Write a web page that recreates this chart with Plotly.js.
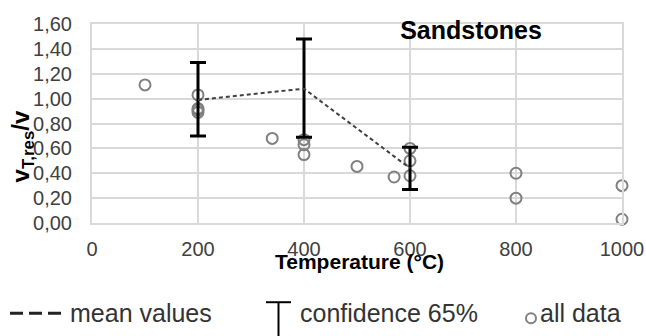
<!DOCTYPE html>
<html>
<head>
<meta charset="utf-8">
<script src="https://cdn.plot.ly/plotly-3.0.1.min.js"></script>
<style>
  html, body { margin: 0; padding: 0; background: #fff; }
  #chart { width: 646px; height: 336px; }
</style>
</head>
<body>
<div id="chart"></div>
<script>
// Residual velocity ratio of sandstones after heating
const allTemp = [100, 200, 200, 200, 200, 340, 400, 400, 400, 500, 570, 600, 600, 600, 800, 800, 1000, 1000];
const allRatio = [1.11, 1.03, 0.92, 0.91, 0.89, 0.68, 0.67, 0.63, 0.55, 0.455, 0.37, 0.60, 0.50, 0.38, 0.40, 0.20, 0.30, 0.03];

const meanTemp = [200, 400, 600];
const meanRatio = [0.99, 1.08, 0.44];
const confPlus = [0.30, 0.40, 0.17];
const confMinus = [0.29, 0.39, 0.17];

const xTicks = [0, 200, 400, 600, 800, 1000];
const yTicks = [0, 0.2, 0.4, 0.6, 0.8, 1.0, 1.2, 1.4, 1.6];

const FONT = 'Liberation Sans, Arial, sans-serif';
const TXT = '#404040';
const GRID = '#d9d9d9';

// Plot area in pixels, used to place the hand-built key below the axes
const W = 646, H = 336;
const M = { l: 92, r: 24, t: 23.5, b: 113.3 };
const pw = W - M.l - M.r, ph = H - M.t - M.b;
const px = v => (v - M.l) / pw;
const py = v => 1 - (v - M.t) / ph;

const traces = [
  {
    x: allTemp, y: allRatio, type: 'scatter', mode: 'markers',
    marker: { symbol: 'circle-open', size: 11, color: '#808080', line: { width: 2, color: '#808080' } },
    cliponaxis: false, showlegend: false, hoverinfo: 'x+y'
  },
  {
    x: meanTemp, y: meanRatio, type: 'scatter', mode: 'lines',
    line: { color: '#404040', width: 2, dash: '4px,3px' },
    error_y: { type: 'data', symmetric: false, array: confPlus, arrayminus: confMinus,
               color: '#000', thickness: 3, width: 8 },
    cliponaxis: false, showlegend: false
  }
];

const shapes = [
  // key: dashed line
  { type: 'line', xref: 'paper', yref: 'paper', x0: px(10), x1: px(61), y0: py(313), y1: py(313),
    line: { color: '#222', width: 3, dash: '13px,6px' } },
  // key: confidence T
  { type: 'line', xref: 'paper', yref: 'paper', x0: px(266), x1: px(291), y0: py(302), y1: py(302),
    line: { color: '#000', width: 2 } },
  { type: 'line', xref: 'paper', yref: 'paper', x0: px(278.5), x1: px(278.5), y0: py(302), y1: py(337),
    line: { color: '#000', width: 2 } },
  // key: open circle
  { type: 'circle', xref: 'paper', yref: 'paper', x0: px(526), x1: px(536), y0: py(313), y1: py(323),
    line: { color: '#808080', width: 2 }, fillcolor: 'rgba(0,0,0,0)' }
];

const keyFont = { family: FONT, size: 25, color: '#333' };
const annotations = [
  { text: '<b>Temperature (°C)</b>', xref: 'paper', yref: 'paper', x: px(359), y: py(261),
    xanchor: 'center', yanchor: 'middle', showarrow: false,
    font: { family: FONT, size: 21, color: '#000' } },
  { text: '<b>v<sub>T,res</sub>/v</b>', xref: 'paper', yref: 'paper', x: px(22), y: py(146),
    xanchor: 'center', yanchor: 'middle', textangle: -90, showarrow: false,
    font: { family: FONT, size: 24, color: '#000' } },
  { text: 'mean values', xref: 'paper', yref: 'paper', x: px(68), y: py(313),
    xanchor: 'left', yanchor: 'middle', showarrow: false, font: keyFont },
  { text: 'confidence 65%', xref: 'paper', yref: 'paper', x: px(298), y: py(313),
    xanchor: 'left', yanchor: 'middle', showarrow: false, font: keyFont },
  { text: 'all data', xref: 'paper', yref: 'paper', x: px(538), y: py(313),
    xanchor: 'left', yanchor: 'middle', showarrow: false, font: keyFont }
];

const layout = {
  width: W, height: H,
  margin: M,
  paper_bgcolor: '#fff', plot_bgcolor: '#fff',
  separators: ',.',
  font: { family: FONT, color: TXT },
  title: { text: '<b>Sandstones</b>', x: 471 / W, y: 1 - 30 / H, xref: 'container', yref: 'container',
           xanchor: 'center', yanchor: 'middle', font: { family: FONT, size: 25, color: '#000' } },
  xaxis: {
    range: [0, 1000], tickvals: xTicks, ticktext: xTicks.map(String),
    showgrid: true, gridcolor: GRID, gridwidth: 2, zeroline: false,
    showline: true, linecolor: GRID, linewidth: 2, mirror: true,
    ticks: 'outside', ticklen: 7, tickcolor: 'rgba(0,0,0,0)',
    tickfont: { family: FONT, size: 20, color: TXT }, fixedrange: true
  },
  yaxis: {
    range: [0, 1.6], tickvals: yTicks, tickformat: '.2f',
    showgrid: true, gridcolor: GRID, gridwidth: 2, zeroline: false,
    showline: true, linecolor: GRID, linewidth: 2, mirror: true,
    ticks: 'outside', ticklen: 14, tickcolor: 'rgba(0,0,0,0)',
    tickfont: { family: FONT, size: 20, color: TXT }, fixedrange: true
  },
  shapes: shapes,
  annotations: annotations,
  showlegend: false
};

Plotly.newPlot('chart', traces, layout, { displayModeBar: false, staticPlot: true });
</script>
</body>
</html>
